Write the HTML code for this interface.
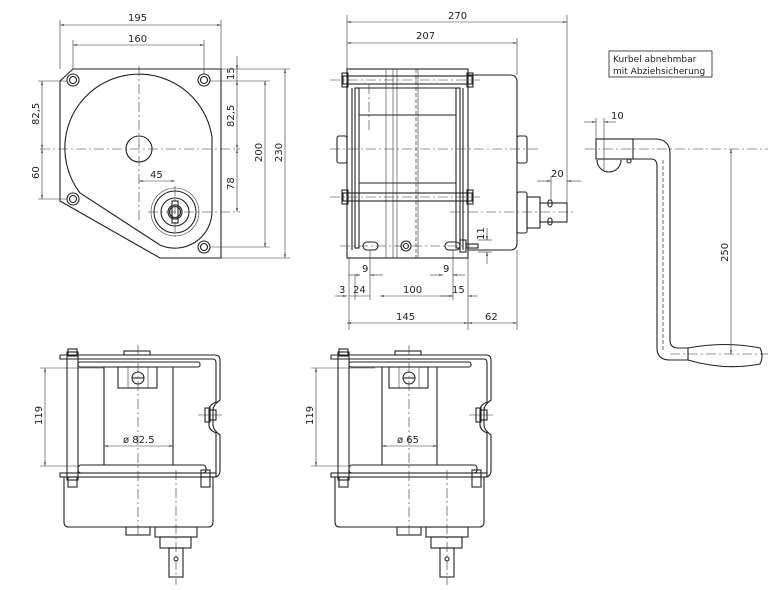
<!DOCTYPE html>
<html><head><meta charset="utf-8"><style>
html,body{margin:0;padding:0;background:#fff;}
svg{display:block;}
text{font-family:"DejaVu Sans","Liberation Sans",sans-serif;font-size:10px;fill:#222;}
.o{fill:none;stroke:#222;stroke-width:1.1;}
.t{fill:none;stroke:#333;stroke-width:0.6;}
.c{fill:none;stroke:#333;stroke-width:0.6;stroke-dasharray:10 3 2 3;}
.h{fill:none;stroke:#333;stroke-width:0.7;stroke-dasharray:4 2;}
</style></head><body>
<svg width="768" height="590" viewBox="0 0 768 590" xmlns="http://www.w3.org/2000/svg">
<defs>
<marker id="a" viewBox="0 0 10 10" refX="10" refY="5" markerWidth="7" markerHeight="7" orient="auto-start-reverse"><path d="M0,3 L10,5 L0,7 z" fill="#222"/></marker>
</defs>

<!-- ===== VIEW 1: front plate ===== -->
<path class="o" d="M73,69 L221,69 L221,258 L160,258 L60,201 L60,81 Z"/>
<path class="o" d="M212,211 L212,137 A74,74 0 1 0 80,193 L160,245 A37,37 0 0 0 212,211"/>
<circle class="o" cx="139" cy="149" r="13"/>
<g>
<circle class="o" cx="73" cy="80" r="6"/><circle class="o" cx="73" cy="80" r="3.5"/>
<circle class="o" cx="204" cy="80" r="6"/><circle class="o" cx="204" cy="80" r="3.5"/>
<circle class="o" cx="73" cy="199" r="6"/><circle class="o" cx="73" cy="199" r="3.5"/>
<circle class="o" cx="204" cy="247" r="6"/><circle class="o" cx="204" cy="247" r="3.5"/>
</g>
<circle class="t" cx="175" cy="212" r="24"/>
<circle class="o" cx="175" cy="212" r="21"/>
<circle class="o" cx="175" cy="212" r="14"/>
<circle class="o" cx="175" cy="212" r="7"/>
<rect class="o" x="172" y="201" width="6" height="22" fill="#fff"/>
<circle class="o" cx="175" cy="212" r="5.5" fill="#fff"/>
<line class="c" x1="139" y1="66" x2="139" y2="222"/>
<line class="c" x1="40" y1="149" x2="240" y2="149"/>
<line class="c" x1="175" y1="186" x2="175" y2="238"/>
<line class="c" x1="148" y1="212" x2="240" y2="212"/>
<!-- dims -->
<line class="t" x1="60" y1="20" x2="60" y2="69"/><line class="t" x1="221" y1="20" x2="221" y2="69"/>
<line class="t" x1="60" y1="25" x2="221" y2="25" marker-start="url(#a)" marker-end="url(#a)"/>
<text x="128" y="21">195</text>
<line class="t" x1="73" y1="40" x2="73" y2="69"/><line class="t" x1="204" y1="40" x2="204" y2="74"/>
<line class="t" x1="73" y1="45" x2="204" y2="45" marker-start="url(#a)" marker-end="url(#a)"/>
<text x="128" y="42">160</text>
<line class="t" x1="38" y1="81" x2="67" y2="81"/><line class="t" x1="38" y1="199" x2="67" y2="199"/>
<line class="t" x1="42" y1="81" x2="42" y2="149" marker-start="url(#a)" marker-end="url(#a)"/>
<line class="t" x1="42" y1="149" x2="42" y2="199" marker-start="url(#a)" marker-end="url(#a)"/>
<text transform="translate(39,125) rotate(-90)">82,5</text>
<text transform="translate(39,179) rotate(-90)">60</text>
<line class="t" x1="221" y1="69" x2="290" y2="69"/>
<line class="t" x1="210" y1="81" x2="270" y2="81"/>
<line class="t" x1="210" y1="247" x2="270" y2="247"/>
<line class="t" x1="221" y1="258" x2="290" y2="258"/>
<line class="t" x1="237" y1="56" x2="237" y2="69" marker-end="url(#a)"/>
<line class="t" x1="237" y1="69" x2="237" y2="81"/>
<line class="t" x1="237" y1="81" x2="237" y2="149" marker-start="url(#a)" marker-end="url(#a)"/>
<line class="t" x1="237" y1="149" x2="237" y2="212" marker-start="url(#a)" marker-end="url(#a)"/>
<text transform="translate(234,80) rotate(-90)">15</text>
<text transform="translate(234,127) rotate(-90)">82,5</text>
<text transform="translate(234,190) rotate(-90)">78</text>
<line class="t" x1="265" y1="81" x2="265" y2="247" marker-start="url(#a)" marker-end="url(#a)"/>
<text transform="translate(262,162) rotate(-90)">200</text>
<line class="t" x1="285" y1="69" x2="285" y2="258" marker-start="url(#a)" marker-end="url(#a)"/>
<text transform="translate(282,162) rotate(-90)">230</text>
<line class="t" x1="139" y1="181" x2="175" y2="181" marker-start="url(#a)" marker-end="url(#a)"/>
<text x="150" y="178">45</text>

<!-- ===== VIEW 2: side ===== -->
<path class="o" d="M468,75 L510,75 Q517,75 517,82 L517,243 Q517,250 510,250 L468,250"/>
<rect class="o" x="347" y="69" width="121" height="189"/>
<line class="o" x1="352" y1="88" x2="352" y2="250"/><line class="o" x1="463" y1="88" x2="463" y2="250"/>
<rect class="o" x="355" y="88" width="4" height="160"/><rect class="o" x="456" y="88" width="4" height="160"/>
<line class="o" x1="359" y1="88" x2="456" y2="88"/>
<line class="o" x1="359" y1="115" x2="456" y2="115"/>
<line class="o" x1="359" y1="183" x2="456" y2="183"/>
<line class="t" x1="386" y1="69" x2="386" y2="258"/><line class="t" x1="393" y1="69" x2="393" y2="258"/>
<line class="t" x1="397" y1="69" x2="397" y2="258"/><line class="t" x1="418" y1="69" x2="418" y2="258"/>
<line class="h" x1="416" y1="69" x2="416" y2="258"/>
<rect class="o" x="343" y="76" width="129" height="8"/>
<rect class="o" x="343" y="193" width="129" height="8"/>
<rect class="o" x="342" y="73" width="6" height="14"/><rect class="o" x="467" y="73" width="6" height="14"/>
<rect class="o" x="342" y="190" width="6" height="14"/><rect class="o" x="467" y="190" width="6" height="14"/>
<rect class="o" x="337" y="136" width="10" height="27" rx="2"/>
<rect class="o" x="517" y="136" width="10" height="27" rx="2"/>
<rect class="o" x="517" y="192" width="10" height="41" rx="2"/>
<rect class="o" x="527" y="197" width="13" height="31"/>
<rect class="o" x="540" y="203" width="27" height="19"/>
<rect class="o" x="548" y="200" width="4" height="7" rx="2"/><rect class="o" x="548" y="218" width="4" height="7" rx="2"/>
<rect class="o" x="363" y="242" width="15" height="8" rx="4"/>
<rect class="o" x="445" y="242" width="15" height="8" rx="4"/>
<circle class="o" cx="406" cy="246" r="5"/><circle class="o" cx="406" cy="246" r="2.5"/>
<rect class="o" x="460" y="240" width="6" height="12"/><rect class="o" x="466" y="244" width="12" height="4"/>
<line class="c" x1="330" y1="149" x2="540" y2="149"/>
<line class="c" x1="330" y1="80" x2="480" y2="80"/>
<line class="c" x1="330" y1="197" x2="480" y2="197"/>
<line class="c" x1="450" y1="212" x2="575" y2="212"/>
<line class="c" x1="340" y1="246" x2="470" y2="246"/>
<line class="c" x1="369" y1="84" x2="369" y2="130"/>
<!-- dims -->
<line class="t" x1="347" y1="15" x2="347" y2="69"/><line class="t" x1="567" y1="15" x2="567" y2="203"/>
<line class="t" x1="347" y1="22" x2="567" y2="22" marker-start="url(#a)" marker-end="url(#a)"/>
<text x="448" y="19">270</text>
<line class="t" x1="517" y1="38" x2="517" y2="75"/>
<line class="t" x1="347" y1="43" x2="517" y2="43" marker-start="url(#a)" marker-end="url(#a)"/>
<text x="416" y="39">207</text>
<line class="t" x1="551" y1="176" x2="551" y2="200"/>
<line class="t" x1="537" y1="181" x2="551" y2="181" marker-end="url(#a)"/>
<line class="t" x1="581" y1="181" x2="567" y2="181" marker-end="url(#a)"/>
<text x="551" y="177">20</text>
<line class="t" x1="478" y1="240" x2="492" y2="240"/><line class="t" x1="478" y1="252" x2="492" y2="252"/>
<line class="t" x1="487" y1="228" x2="487" y2="240" marker-end="url(#a)"/>
<line class="t" x1="487" y1="264" x2="487" y2="252" marker-end="url(#a)"/>
<text transform="translate(484,240) rotate(-90)">11</text>
<line class="t" x1="349" y1="258" x2="349" y2="330"/>
<line class="t" x1="468" y1="258" x2="468" y2="330"/>
<line class="t" x1="517" y1="250" x2="517" y2="330"/>
<line class="t" x1="370" y1="250" x2="370" y2="300"/><line class="t" x1="453" y1="250" x2="453" y2="300"/>
<line class="t" x1="355" y1="275" x2="355" y2="300"/>
<line class="t" x1="348" y1="275" x2="360" y2="275" marker-end="url(#a)"/><line class="t" x1="383" y1="275" x2="370" y2="275" marker-end="url(#a)"/>
<text x="362" y="272">9</text>
<line class="t" x1="430" y1="275" x2="443" y2="275" marker-end="url(#a)"/><line class="t" x1="465" y1="275" x2="453" y2="275" marker-end="url(#a)"/>
<text x="443" y="272">9</text>
<line class="t" x1="335" y1="296" x2="347" y2="296" marker-end="url(#a)"/>
<line class="t" x1="349" y1="296" x2="370" y2="296"/>
<line class="t" x1="380" y1="296" x2="453" y2="296" marker-start="url(#a)"/>
<line class="t" x1="440" y1="296" x2="453" y2="296" marker-end="url(#a)"/>
<line class="t" x1="478" y1="296" x2="468" y2="296" marker-end="url(#a)"/>
<text x="339" y="293">3</text><text x="353" y="293">24</text>
<text x="403" y="293">100</text><text x="452" y="293">15</text>
<line class="t" x1="347" y1="323" x2="468" y2="323" marker-start="url(#a)" marker-end="url(#a)"/>
<line class="t" x1="468" y1="323" x2="517" y2="323" marker-start="url(#a)" marker-end="url(#a)"/>
<text x="396" y="320">145</text><text x="485" y="320">62</text>

<!-- ===== Bottom views ===== -->
<g id="bv">
<path class="o" d="M64,477 L213,477 L213,522 Q213,527 208,527 L69,527 Q64,527 64,522 Z"/>
<rect class="o" x="60" y="473" width="156" height="4"/>
<rect class="o" x="78" y="465" width="128" height="8" rx="3"/>
<path class="o" d="M60,355 L215,355 Q220,355 220,360 L220,400 Q213,405 213,410 L213,425 Q213,430 220,435 L220,470 Q220,477 214,477"/>
<path class="o" d="M60,355 L60,359 L213,359 Q216,359 216,363 L216,402 Q209,405 209,410 L209,425 Q209,430 216,433 L216,473"/>
<rect class="o" x="78" y="362" width="122" height="5" rx="2"/>
<rect class="o" x="124" y="351" width="26" height="4"/>
<rect class="o" x="67" y="352" width="11" height="128"/>
<rect class="o" x="68" y="349" width="9" height="7"/>
<rect class="o" x="68" y="477" width="9" height="10"/>
<rect class="o" x="201" y="470" width="9" height="7"/><rect class="o" x="201" y="477" width="9" height="10"/>
<rect class="o" x="205" y="408" width="5" height="14"/><rect class="o" x="210" y="410" width="6" height="10"/>
<line class="t" x1="198" y1="415" x2="222" y2="415"/>
<rect class="o" x="118" y="367" width="39" height="21"/>
<line class="t" x1="128" y1="367" x2="128" y2="388"/><line class="t" x1="148" y1="367" x2="148" y2="388"/>
<circle class="o" cx="138" cy="378" r="6"/><line class="o" x1="132" y1="378" x2="144" y2="378"/>
<rect class="o" x="126" y="527" width="24" height="8"/>
<rect class="o" x="155" y="527" width="42" height="10"/>
<rect class="o" x="160" y="537" width="31" height="11"/>
<rect class="o" x="169" y="548" width="14" height="29"/>
<circle class="o" cx="176" cy="559" r="2"/>
<line class="c" x1="138" y1="345" x2="138" y2="535"/>
<line class="c" x1="176" y1="470" x2="176" y2="585"/>
<line class="t" x1="40" y1="368" x2="104" y2="368"/><line class="t" x1="40" y1="466" x2="80" y2="466"/>
<line class="t" x1="45" y1="368" x2="45" y2="466" marker-start="url(#a)" marker-end="url(#a)"/>
<text transform="translate(42,425) rotate(-90)">119</text>
</g>
<line class="o" x1="104" y1="367" x2="104" y2="465"/><line class="o" x1="173" y1="367" x2="173" y2="465"/>
<line class="t" x1="104" y1="446" x2="173" y2="446" marker-start="url(#a)" marker-end="url(#a)"/>
<text x="123" y="443">ø 82.5</text>
<use href="#bv" transform="translate(271,0)"/>
<line class="o" x1="382" y1="367" x2="382" y2="465"/><line class="o" x1="437" y1="367" x2="437" y2="465"/>
<line class="t" x1="382" y1="446" x2="437" y2="446" marker-start="url(#a)" marker-end="url(#a)"/>
<text x="397" y="443">ø 65</text>

<!-- ===== Crank ===== -->
<rect x="609" y="51" width="103" height="26" fill="none" stroke="#222" stroke-width="0.8"/>
<text x="613" y="62" style="font-size:9px">Kurbel abnehmbar</text>
<text x="613" y="74" style="font-size:9px">mit Abziehsicherung</text>
<rect class="o" x="596" y="139" width="37" height="20"/>
<path class="o" d="M597,160 A12,12 0 0 0 621,160"/>
<circle class="o" cx="629" cy="161" r="2"/>
<path class="o" d="M633,139 L655,139 Q670,139 670,154 L670,340 Q670,348 678,348 L688,348"/>
<path class="o" d="M633,159 L651,159 Q657,159 657,166 L657,348 Q657,360 670,360 L688,360"/>
<path class="o" d="M688,348 Q725,341 760,348 Q764,356 760,364 Q725,371 688,360 Z"/>
<line class="c" x1="585" y1="149" x2="770" y2="149"/>
<line class="h" x1="663" y1="160" x2="663" y2="350"/>
<line class="c" x1="670" y1="354" x2="768" y2="354"/>
<line class="t" x1="596" y1="118" x2="596" y2="139"/><line class="t" x1="604" y1="118" x2="604" y2="170"/>
<line class="t" x1="584" y1="122" x2="596" y2="122" marker-end="url(#a)"/>
<line class="t" x1="616" y1="122" x2="604" y2="122" marker-end="url(#a)"/>
<text x="611" y="119">10</text>
<line class="t" x1="731" y1="149" x2="731" y2="354" marker-start="url(#a)" marker-end="url(#a)"/>
<text transform="translate(728,262) rotate(-90)">250</text>
</svg>
</body></html>
